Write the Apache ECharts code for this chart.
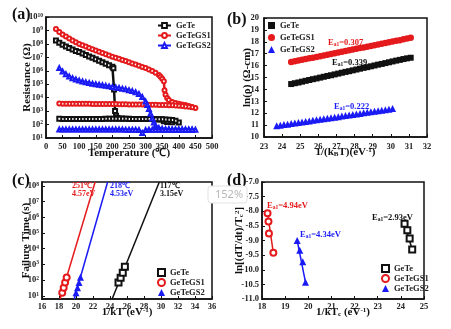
<!DOCTYPE html>
<html>
<head>
<meta charset="utf-8">
<script src="https://cdn.jsdelivr.net/npm/echarts@6/dist/echarts.min.js"></script>
<style>
html,body{margin:0;padding:0;background:#fff;}
#chart{width:451px;height:329px;}
</style>
</head>
<body>
<div id="chart"></div>
<script>
// ---------- (a) resistance vs temperature (values are log10 of R in ohm) ----------
const geteHeatT = [30,40,50,60,70,80,90,100,110,120,130,140,150,160,170,180,190,200,203,205,208,211,215,230,250,275,300,325,345,355,365,380,400];
const geteHeatR = [8.25,8.08,7.93,7.8,7.69,7.58,7.48,7.39,7.29,7.18,7.07,6.96,6.86,6.75,6.64,6.53,6.42,6.3,6.18,4.6,3.0,2.65,2.48,2.45,2.43,2.42,2.41,2.4,2.38,2.25,2.19,2.18,2.16];
const geteCoolT = [390,380,370,360,350,340,330,320,310,300,290,280,270,260,250,240,230,220,210,200,190,180,170,160,150,140,130,120,110,100,90,80,70,60,50,40];
const geteCoolR = [2.28,2.33,2.36,2.38,2.39,2.4,2.4,2.41,2.41,2.41,2.42,2.42,2.42,2.42,2.42,2.43,2.43,2.43,2.43,2.43,2.43,2.43,2.42,2.42,2.42,2.42,2.42,2.42,2.42,2.42,2.42,2.42,2.42,2.42,2.42,2.43];

const gs1HeatT = [30,40,50,60,70,80,90,100,110,120,130,140,150,160,170,180,190,200,210,220,230,240,250,260,270,280,290,300,310,320,330,340,345,350,355,357,360,365,370,380,390,400,410,420,430,440,450];
const gs1HeatR = [9.1,8.88,8.7,8.55,8.4,8.25,8.12,8.0,7.9,7.8,7.7,7.6,7.5,7.41,7.32,7.23,7.14,7.05,6.97,6.89,6.81,6.72,6.64,6.55,6.46,6.37,6.29,6.2,6.1,5.98,5.85,5.68,5.55,5.4,5.22,4.55,4.22,3.97,3.83,3.68,3.6,3.54,3.49,3.45,3.38,3.31,3.24];
const gs1CoolT = [440,430,420,410,400,390,380,370,360,350,340,330,320,310,300,290,280,270,260,250,240,230,220,210,200,190,180,170,160,150,140,130,120,110,100,90,80,70,60,50,40];
const gs1CoolR = [3.28,3.32,3.35,3.38,3.4,3.42,3.43,3.44,3.45,3.46,3.46,3.47,3.47,3.48,3.48,3.49,3.49,3.5,3.5,3.5,3.51,3.51,3.51,3.52,3.52,3.52,3.52,3.53,3.53,3.53,3.53,3.54,3.54,3.54,3.54,3.54,3.55,3.55,3.55,3.55,3.56];

const gs2HeatT = [40,50,60,70,80,90,100,110,120,130,140,150,160,170,180,190,200,210,220,230,240,250,260,270,280,290,300,305,310,315,320,325,330,340,350,360,370,380,390,400,410,420,430,440,450];
const gs2HeatR = [6.2,5.95,5.75,5.58,5.45,5.35,5.27,5.2,5.14,5.09,5.04,5.0,4.96,4.92,4.88,4.84,4.8,4.76,4.72,4.67,4.62,4.56,4.49,4.4,4.27,4.05,3.72,3.45,3.15,2.8,2.45,2.15,1.92,1.75,1.68,1.66,1.65,1.64,1.64,1.63,1.63,1.63,1.62,1.62,1.62];
const gs2CoolT = [440,430,420,410,400,390,380,370,360,350,340,330,320,310,300,290,280,270,260,250,240,230,220,210,200,190,180,170,160,150,140,130,120,110,100,90,80,70,60,50,40];
const gs2CoolR = [1.62,1.62,1.62,1.62,1.62,1.62,1.62,1.62,1.62,1.62,1.62,1.62,1.62,1.61,1.6,1.38,1.6,1.62,1.62,1.62,1.62,1.63,1.63,1.63,1.63,1.63,1.63,1.63,1.63,1.63,1.63,1.63,1.63,1.63,1.63,1.63,1.63,1.63,1.63,1.63,1.63];

// ---------- (b) ln(rho) vs 1/(kB T) ----------
const bGeteX = [24.5,24.7,24.9,25.1,25.3,25.5,25.7,25.9,26.1,26.3,26.5,26.7,26.9,27.1,27.3,27.5,27.7,27.9,28.1,28.3,28.5,28.7,28.9,29.1,29.3,29.5,29.7,29.9,30.1,30.3,30.5,30.7,30.9,31.1];
const bGeteY = [14.45,14.52,14.58,14.65,14.72,14.79,14.86,14.92,14.99,15.06,15.13,15.19,15.26,15.33,15.4,15.47,15.53,15.6,15.67,15.74,15.81,15.87,15.94,16.01,16.08,16.14,16.21,16.28,16.35,16.42,16.48,16.55,16.61,16.66];
const bGs1X = [24.5,24.7,24.9,25.1,25.3,25.5,25.7,25.9,26.1,26.3,26.5,26.7,26.9,27.1,27.3,27.5,27.7,27.9,28.1,28.3,28.5,28.7,28.9,29.1,29.3,29.5,29.7,29.9,30.1,30.3,30.5,30.7,30.9,31.1];
const bGs1Y = [16.3,16.36,16.42,16.49,16.55,16.61,16.67,16.73,16.79,16.85,16.92,16.98,17.04,17.1,17.16,17.22,17.28,17.35,17.41,17.47,17.53,17.59,17.65,17.71,17.78,17.84,17.9,17.96,18.02,18.08,18.14,18.21,18.27,18.33];
const bGs2X = [23.7,23.9,24.1,24.3,24.5,24.7,24.9,25.1,25.3,25.5,25.7,25.9,26.1,26.3,26.5,26.7,26.9,27.1,27.3,27.5,27.7,27.9,28.1,28.3,28.5,28.7,28.9,29.1,29.3,29.5,29.7,29.9,30.1];
const bGs2Y = [10.95,10.99,11.04,11.08,11.13,11.17,11.22,11.26,11.31,11.35,11.4,11.44,11.49,11.53,11.58,11.62,11.67,11.71,11.76,11.8,11.85,11.89,11.94,11.98,12.03,12.07,12.12,12.16,12.21,12.25,12.3,12.34,12.39];

// ---------- (c) failure time vs 1/kT (values are log10 of t in s) ----------
const cGeteX = [25.0,25.25,25.5,25.75];
const cGeteY = [1.85,2.15,2.47,2.85];
const cGs1X = [18.38,18.55,18.72,18.9];
const cGs1Y = [1.2,1.52,1.85,2.17];
const cGs2X = [20.0,20.18,20.35,20.52];
const cGs2Y = [1.2,1.52,1.85,2.18];
const cFitGete = [[24.25,0.8],[29.8,8.25]];
const cFitGs1 = [[18.13,0.8],[22.25,8.25]];
const cFitGs2 = [[19.79,0.8],[23.72,8.25]];
const cTicks = [1,2,3,4,5,6,7,8];

// ---------- (d) Kissinger plot ----------
const dGeteX = [24.16,24.28,24.38,24.49];
const dGeteY = [-8.43,-8.65,-8.93,-9.31];
const dGs1X = [18.24,18.28,18.3,18.49];
const dGs1Y = [-8.07,-8.35,-8.76,-9.42];
const dGs2X = [19.52,19.63,19.76,19.88];
const dGs2Y = [-9.0,-9.33,-9.73,-10.43];
const dFitGete = [[24.16,-8.43],[24.49,-9.31]];
const dFitGs1 = [[18.24,-8.07],[18.49,-9.42]];
const dFitGs2 = [[19.52,-9.0],[19.88,-10.43]];

const seriesNames = ['GeTe','GeTeGS1','GeTeGS2'];

const FONT = '"Liberation Serif", "Times New Roman", serif';
const BLACK = '#111111', RED = '#e41a1c', BLUE = '#1a1af5';

const zip = (xs, ys) => xs.map((x, i) => [x, ys[i]]);
const tag = (name, panel) => name + '@' + panel;

const richBase = {
  t: {fontFamily: FONT, fontWeight: 'bold', fontSize: 11, color: BLACK},
  s: {fontFamily: FONT, fontWeight: 'bold', fontSize: 7, color: BLACK, verticalAlign: 'top'},
  sub: {fontFamily: FONT, fontWeight: 'bold', fontSize: 7, color: BLACK, verticalAlign: 'bottom'}
};
const powRich = {
  b: {fontFamily: FONT, fontWeight: 'bold', fontSize: 8.5, color: '#222'},
  s: {fontFamily: FONT, fontWeight: 'bold', fontSize: 5.5, color: '#222', verticalAlign: 'top'}
};

function axis(grid, min, max, interval, o) {
  const a = {
    type: 'value', gridIndex: grid, min, max, interval,
    axisLine: {show: true, onZero: false, lineStyle: {color: BLACK, width: 1.5}},
    axisTick: {show: true, inside: true, length: 3, lineStyle: {color: BLACK, width: 1}},
    splitLine: {show: false},
    axisLabel: {color: '#222', fontFamily: FONT, fontWeight: 'bold', fontSize: 8.5, margin: 3},
    nameLocation: 'middle',
    nameMoveOverlap: false,
    nameTextStyle: {color: BLACK, fontFamily: FONT, fontWeight: 'bold', fontSize: 11, rich: richBase}
  };
  return Object.assign(a, o || {});
}

const grids = [
  {left: 46, top: 17, width: 166, height: 121},
  {left: 264, top: 18, width: 163, height: 119},
  {left: 42, top: 182, width: 170, height: 117},
  {left: 262, top: 182, width: 162, height: 117}
].map(g => Object.assign(g, {show: true, borderColor: BLACK, borderWidth: 1.5, backgroundColor: 'transparent'}));

const xAxes = [
  axis(0, 0, 500, 50, {name: 'Temperature (℃)', nameGap: 10}),
  axis(1, 23, 32, 1, {name: '{t|1/(k}{sub|B}{t|T)(eV}{s|-1}{t|)}', nameGap: 10}),
  axis(2, 16, 36, 2, {name: '{t|1/kT (eV}{s|-1}{t|)}', nameGap: 8}),
  axis(3, 18, 25, 1, {name: '{t|1/kT}{sub|c}{t| (eV}{s|-1}{t|)}', nameGap: 8})
];
xAxes[0].axisLabel.margin = 4;
xAxes[1].axisLabel.margin = 5;

const yAxes = [
  axis(0, 1, 10, 1, {name: 'Resistance (Ω)', nameGap: 13, nameRotate: 90}),
  axis(1, 10, 20, 1, {name: 'ln(ρ) (Ω-cm)', nameGap: 11, nameRotate: 90}),
  axis(2, 0.8, 8.25, null, {name: 'Failure Time (s)', nameGap: 10, nameRotate: 90}),
  axis(3, -11, -7, 0.5, {name: '{t|ln[(dT/dt)/T}{sub|c}{s|2}{t|]}', nameGap: 17, nameRotate: 90})
];
yAxes[0].axisLabel.formatter = v => '{b|10}{s|' + Math.round(v) + '}';
yAxes[0].axisLabel.rich = powRich;
yAxes[1].axisLabel.margin = 5;
yAxes[2].axisLabel.formatter = v => '{b|10}{s|' + Math.round(v) + '}';
yAxes[2].axisLabel.rich = powRich;
yAxes[2].axisLabel.customValues = cTicks;
yAxes[2].axisTick.customValues = cTicks;
yAxes[3].axisLabel.formatter = v => v.toFixed(1);

// panel (a): heating and cooling branches joined into one trace per sample
function rtSeries(name, color, symbol, heatT, heatR, coolT, coolR) {
  return {
    name: tag(name, 'a'), type: 'line', xAxisIndex: 0, yAxisIndex: 0,
    data: zip(heatT, heatR).concat(zip(coolT, coolR)),
    symbol, symbolSize: 4, showAllSymbol: true,
    lineStyle: {color, width: 2.5},
    itemStyle: {color, borderColor: color, borderWidth: 1}
  };
}

function scatterSeries(name, panel, idx, color, symbol, size, xs, ys) {
  return {
    name: tag(name, panel), type: 'scatter', xAxisIndex: idx, yAxisIndex: idx,
    data: zip(xs, ys), symbol, symbolSize: size,
    itemStyle: {color, borderColor: color, borderWidth: symbol.startsWith('empty') ? 1.5 : 0, opacity: 1},
    z: 3
  };
}

function fitSeries(name, idx, color, pts) {
  return {
    name, type: 'line', xAxisIndex: idx, yAxisIndex: idx, data: pts,
    symbol: 'none', lineStyle: {color, width: 1.5}, z: 2
  };
}

const series = [
  rtSeries(seriesNames[0], BLACK, 'emptyRect', geteHeatT, geteHeatR, geteCoolT, geteCoolR),
  rtSeries(seriesNames[1], RED, 'emptyCircle', gs1HeatT, gs1HeatR, gs1CoolT, gs1CoolR),
  rtSeries(seriesNames[2], BLUE, 'emptyTriangle', gs2HeatT, gs2HeatR, gs2CoolT, gs2CoolR),

  scatterSeries(seriesNames[0], 'b', 1, BLACK, 'rect', 6, bGeteX, bGeteY),
  scatterSeries(seriesNames[1], 'b', 1, RED, 'circle', 6.5, bGs1X, bGs1Y),
  scatterSeries(seriesNames[2], 'b', 1, BLUE, 'triangle', 7, bGs2X, bGs2Y),

  fitSeries('fit GeTe c', 2, BLACK, cFitGete),
  fitSeries('fit GeTeGS1 c', 2, RED, cFitGs1),
  fitSeries('fit GeTeGS2 c', 2, BLUE, cFitGs2),
  scatterSeries(seriesNames[0], 'c', 2, BLACK, 'emptyRect', 6, cGeteX, cGeteY),
  scatterSeries(seriesNames[1], 'c', 2, RED, 'emptyCircle', 6, cGs1X, cGs1Y),
  scatterSeries(seriesNames[2], 'c', 2, BLUE, 'triangle', 7, cGs2X, cGs2Y),

  fitSeries('fit GeTe d', 3, BLACK, dFitGete),
  fitSeries('fit GeTeGS1 d', 3, RED, dFitGs1),
  fitSeries('fit GeTeGS2 d', 3, BLUE, dFitGs2),
  scatterSeries(seriesNames[0], 'd', 3, BLACK, 'emptyRect', 6, dGeteX, dGeteY),
  scatterSeries(seriesNames[1], 'd', 3, RED, 'emptyCircle', 6, dGs1X, dGs1Y),
  scatterSeries(seriesNames[2], 'd', 3, BLUE, 'triangle', 7, dGs2X, dGs2Y)
];

function legend(panel, left, top, iw, ih, gap) {
  return {
    data: seriesNames.map(n => tag(n, panel)),
    left, top, orient: 'vertical', itemWidth: iw, itemHeight: ih, itemGap: gap,
    padding: 0, selectedMode: false,
    formatter: n => n.split('@')[0],
    textStyle: {fontFamily: FONT, fontWeight: 'bold', fontSize: 8.5, color: '#222', lineHeight: 9}
  };
}

// activation-energy and temperature notes
function note(x, y, text, color, size) {
  return {
    type: 'text', x, y, silent: true, z: 10,
    style: {
      text, fill: color, fontFamily: FONT, fontWeight: 'bold', fontSize: size || 8.5,
      verticalAlign: 'middle', align: 'left',
      rich: {sub: {fill: color, fontFamily: FONT, fontWeight: 'bold', fontSize: 5.5, verticalAlign: 'bottom'}}
    }
  };
}
function panelTag(x, y, text) {
  return {type: 'text', x, y, silent: true, style: {text, fill: BLACK, fontFamily: FONT, fontWeight: 'bold', fontSize: 16, verticalAlign: 'middle'}};
}

const graphic = [
  panelTag(12, 15, '(a)'),
  panelTag(227, 20, '(b)'),
  panelTag(12, 181, '(c)'),
  panelTag(227, 181, '(d)'),

  note(328, 43, 'E{sub|a1}=0.307', RED),
  note(332, 63, 'E{sub|a1}=0.339', BLACK),
  note(334, 107, 'E{sub|a1}=0.222', BLUE),

  note(72, 186, '251℃', RED, 8),
  note(72, 194, '4.57eV', RED, 8),
  note(110, 186, '218℃', BLUE, 8),
  note(110, 194, '4.53eV', BLUE, 8),
  note(160, 186, '117℃', BLACK, 8),
  note(160, 194, '3.15eV', BLACK, 8),

  note(267, 206, 'E{sub|a1}=4.94eV', RED),
  note(300, 235, 'E{sub|a1}=4.34eV', BLUE),
  note(372, 218, 'E{sub|a1}=2.93eV', BLACK),

  // zoom badge sitting over the page
  {type: 'rect', shape: {x: 208, y: 186, width: 39, height: 17, r: 3}, z: 20,
   style: {fill: '#ffffff', stroke: '#e2e2e2', lineWidth: 1}},
  {type: 'text', x: 215, y: 194.5, z: 21,
   style: {text: '152%', fill: '#b8b8b8', fontFamily: '"Noto Sans", sans-serif', fontSize: 11, verticalAlign: 'middle'}}
];

const chart = echarts.init(document.getElementById('chart'), null, {renderer: 'canvas'});
chart.setOption({
  animation: false,
  backgroundColor: '#ffffff',
  grid: grids,
  xAxis: xAxes,
  yAxis: yAxes,
  legend: [
    legend('a', 157, 21, 13, 6, 1),
    legend('b', 268, 21, 7, 7, 3),
    legend('c', 157, 268, 7, 7, 1),
    legend('d', 381, 264, 7, 7, 1)
  ],
  series,
  graphic
});
</script>
</body>
</html>
